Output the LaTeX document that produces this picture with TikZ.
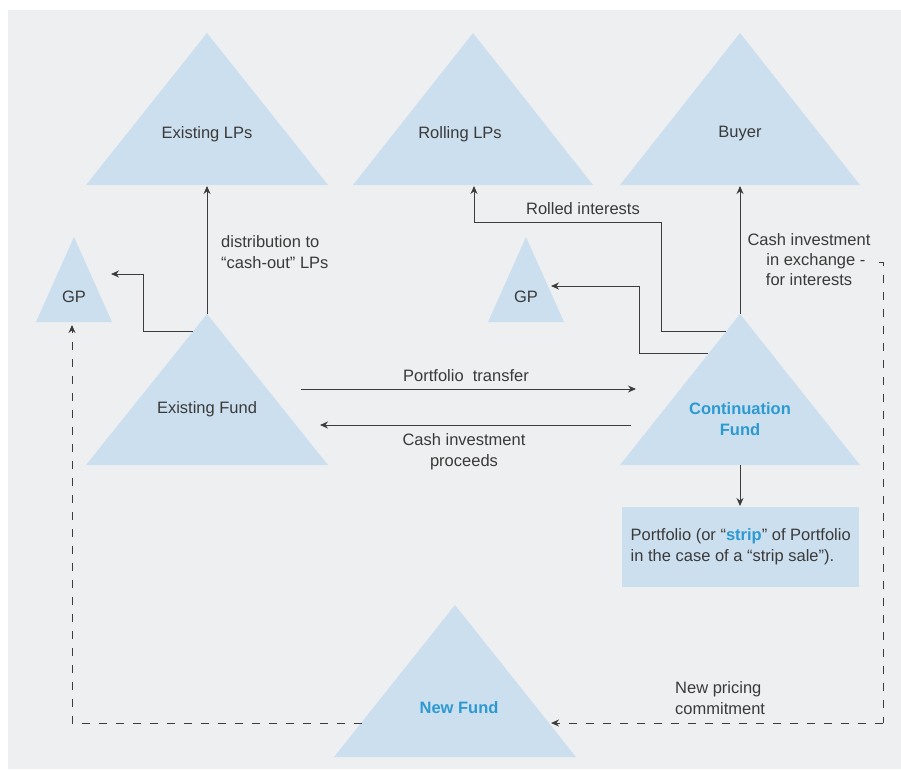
\documentclass[tikz,border=0pt]{standalone}
\usepackage{fontspec}
\setmainfont{Liberation Sans}
\usetikzlibrary{arrows.meta}
\definecolor{panel}{HTML}{EEEFF1}
\definecolor{trifill}{HTML}{CCDFEF}
\definecolor{txt}{HTML}{3A3A3A}
\definecolor{blu}{HTML}{2C9AD1}
\definecolor{ln}{HTML}{3C3C3C}
\newcommand\mytri[5]{% name, cx, apex y, base y, half width
  \fill[trifill] (#2,#3) -- (#2+#5,#4) -- (#2-#5,#4) -- cycle;
  \coordinate (#1-apex) at (#2,#3);
  \coordinate (#1-base) at (#2,#4);}
\begin{document}
\begin{tikzpicture}[x=1pt,y=-1pt,
  lbl/.style={text=txt,font=\fontsize{16.5}{21}\selectfont,inner sep=0pt,align=center},
  blbl/.style={text=blu,font=\fontsize{16.5}{21}\selectfont\bfseries,inner sep=0pt,align=center},
  arr/.style={draw=ln,line width=1pt,-{Stealth[length=8pt,width=7pt]}},
  darr/.style={draw=ln,line width=1pt,dash pattern=on 8pt off 9pt,-{Stealth[length=8pt,width=7pt]}},
  dline/.style={draw=ln,line width=1pt,dash pattern=on 8pt off 9pt},
  pfbox/.style={fill=trifill,text=txt,font=\fontsize{16.5}{21}\selectfont,align=left,
    minimum width=237pt,minimum height=80pt,inner sep=0pt,anchor=north west}]
\useasboundingbox (0,0) rectangle (901,769);
\fill[white] (0,0) rectangle (901,769);
\fill[panel] (8,10) rectangle (901,769);
% triangles
\mytri{elp}{207}{33}{185}{121}
\mytri{rlp}{473}{33}{185}{120}
\mytri{buy}{740}{33}{185}{120}
\mytri{gpl}{74}{237}{322}{38}
\mytri{gpm}{526}{237}{322}{38}
\mytri{ef}{207}{314}{465}{121}
\mytri{cf}{740}{314}{465}{120}
\mytri{nf}{455}{605}{757}{121}
% texts
\node[lbl] (t-elp) at (207,134) {Existing LPs};
\node[lbl] (t-rlp) at (460,134) {Rolling LPs};
\node[lbl] (t-buy) at (740,134) {Buyer};
\node[lbl] (t-gpl) at (74,297) {GP};
\node[lbl] (t-gpm) at (526,297) {GP};
\node[lbl] (t-ef) at (207,409) {Existing Fund};
\node[blbl] (t-cf) at (740,419.5) {Continuation\\Fund};
\node[blbl] (t-nf) at (459,708) {New Fund};
\node[pfbox] (pf) at (622,507) {Portfolio (or “\textcolor{blu}{\bfseries strip}” of Portfolio\\in the case of a “strip sale”).};
% labels
\node[lbl,align=left,anchor=west] (l-dist) at (221,252.5) {distribution to\\“cash-out” LPs};
\node[lbl] (l-pt) at (466,376) {Portfolio\ \ transfer};
\node[lbl] (l-cip) at (464,452) {Cash investment\\proceeds};
\node[lbl] (l-ri) at (583,209) {Rolled interests};
\node[lbl,font=\fontsize{16.5}{20}\selectfont] (l-ci) at (809,260) {Cash investment\\\ \ \ in exchange -\\for interests};
\node[lbl,align=left,anchor=west] (l-np) at (675,698) {New pricing\\commitment};
% connector coordinates
\coordinate (ef-l) at (193,331);
\coordinate (gpl-r) at (111,274);
\coordinate (gpl-b) at (72,325);
\coordinate (elp-b) at (207,186);
\coordinate (pt-s) at (301,389);
\coordinate (pt-e) at (636,389);
\coordinate (cip-s) at (631,425);
\coordinate (cip-e) at (320,425);
\coordinate (cf-r1) at (726,331);
\coordinate (cf-r2) at (708,353);
\coordinate (ri-k) at (661,222);
\coordinate (rlp-b) at (474,186);
\coordinate (gm-k) at (639,286);
\coordinate (gpm-r) at (551,286);
\coordinate (buy-b) at (740,186);
\coordinate (cf-b) at (740,465);
\coordinate (pf-t) at (740,506);
\coordinate (nf-l) at (362,723);
\coordinate (nf-r) at (551,723);
\coordinate (d-tl) at (879,262);
\coordinate (d-tr) at (883,262);
\coordinate (d-br) at (883,723);
% connectors
\draw[arr] (ef-apex) -- (elp-b);
\draw[arr] (ef-l) -| (143,274) -- (gpl-r);
\draw[arr] (pt-s) -- (pt-e);
\draw[arr] (cip-s) -- (cip-e);
\draw[arr] (cf-apex) -- (buy-b);
\draw[arr] (cf-r1) -| (ri-k) -| (rlp-b);
\draw[arr] (cf-r2) -| (gm-k) -- (gpm-r);
\draw[arr] (cf-b) -- (pf-t);
\draw[darr] (nf-l) -| (gpl-b);
\draw[dline] (d-tl) -- (d-tr) -- (d-br);
\draw[darr] (d-br) -- (nf-r);
\end{tikzpicture}
\end{document}
